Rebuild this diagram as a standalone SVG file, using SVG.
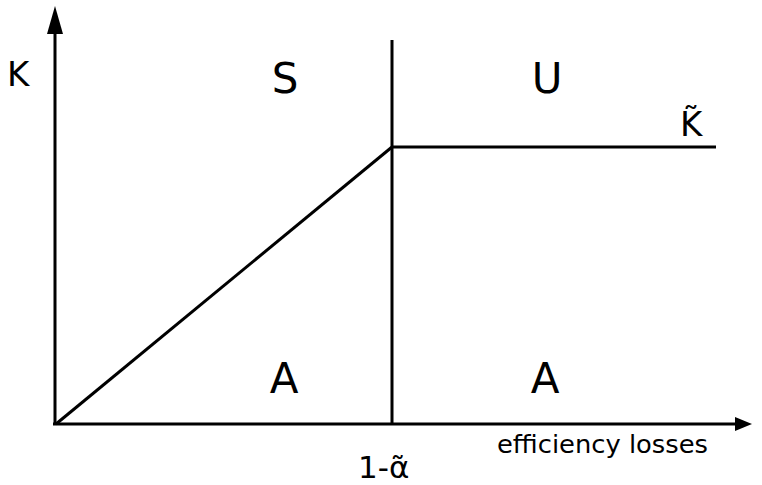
<svg xmlns="http://www.w3.org/2000/svg" width="762" height="485" viewBox="0 0 762 485">
<style>
.ln{stroke:#000;stroke-width:3;fill:none}
.t{font-family:"DejaVu Sans","Liberation Sans",sans-serif;fill:#000}
.big{font-size:42px}
.sm{font-size:34px}
</style>
<rect width="762" height="485" fill="#fff"/>
<g id="connectors">
<line class="ln" x1="55" y1="425" x2="55" y2="28"/>
<polygon points="55,6 47,34 63,34" fill="#000"/>
<line class="ln" x1="53" y1="424" x2="740" y2="424"/>
<polygon points="752,424 735,417 735,431" fill="#000"/>
<line class="ln" x1="392" y1="40" x2="392" y2="424"/>
<line class="ln" x1="56" y1="424" x2="392" y2="147"/>
<line class="ln" x1="392" y1="147" x2="716" y2="147"/>
</g>
<g id="labels">
<text class="t sm" x="7" y="86">K</text>
<text class="t big" x="285" y="93" text-anchor="middle">S</text>
<text class="t big" x="547" y="93" text-anchor="middle">U</text>
<text class="t sm" x="680" y="136">K̃</text>
<text class="t big" x="284" y="393" text-anchor="middle">A</text>
<text class="t big" x="545" y="393" text-anchor="middle">A</text>
<text class="t" font-size="31" x="358" y="478">1-α̃</text>
<text class="t" font-size="24" x="497" y="453" textLength="211" lengthAdjust="spacingAndGlyphs">efficiency losses</text>
</g>
</svg>
